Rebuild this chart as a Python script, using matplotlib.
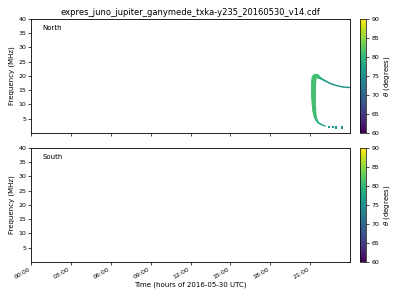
import matplotlib
matplotlib.use("Agg")
import matplotlib.pyplot as plt
import numpy as np
from matplotlib.colors import Normalize
from matplotlib.collections import LineCollection

title = "expres_juno_jupiter_ganymede_txka-y235_20160530_v14.cdf"
hemispheres = ["North", "South"]
xtick_labels = ["00:00", "03:00", "06:00", "09:00", "12:00", "15:00", "18:00", "21:00"]
xtick_hours = [0, 3, 6, 9, 12, 15, 18, 21]
yticks = [5, 10, 15, 20, 25, 30, 35, 40]

# North emission: upper branch (hours, MHz, theta deg)
north_upper_time = [21.3, 21.4, 21.5, 21.6, 21.7, 21.85, 22.0, 22.2, 22.4, 22.6, 22.8,
                    23.0, 23.25, 23.5, 23.75, 24.0]
north_upper_freq = [19.4, 19.9, 19.9, 19.7, 19.4, 19.0, 18.6, 18.1, 17.6, 17.2, 16.9,
                    16.6, 16.3, 16.1, 16.0, 15.9]
north_upper_theta = [81, 81, 81, 80.5, 80, 79, 78, 77, 76.5, 76, 75.5, 75, 75, 75, 75, 75]

# North emission: lower branch
north_lower_time = [21.3, 21.27, 21.25, 21.25, 21.26, 21.28, 21.31, 21.35, 21.41,
                    21.5, 21.62, 21.78, 21.95, 22.15]
north_lower_freq = [19.4, 18.0, 16.0, 14.0, 12.0, 10.0, 8.0, 6.5, 5.3,
                    4.3, 3.6, 3.1, 2.7, 2.4]
north_lower_theta = [81, 81, 81, 81, 81, 81, 81, 81, 80.5, 80, 79, 78, 77, 76.5]

# North emission: isolated low-frequency points
north_dots_time = [22.4, 22.7, 22.95, 23.4]
north_dots_freq = [2.1, 2.0, 1.9, 1.9]
north_dots_theta = [76, 75.5, 75, 75]

theta_min, theta_max = 60, 90
cbar_ticks = [60, 65, 70, 75, 80, 85, 90]

fig = plt.figure(figsize=(4, 3), dpi=100)
ax1 = fig.add_axes([0.0775, 0.557, 0.7975, 0.38])
ax2 = fig.add_axes([0.0775, 0.127, 0.7975, 0.38])
cax1 = fig.add_axes([0.9, 0.557, 0.016, 0.38])
cax2 = fig.add_axes([0.9, 0.127, 0.016, 0.38])

norm = Normalize(theta_min, theta_max)
cmap = plt.get_cmap("viridis")


def branch(ax, t, f, th, widths):
    pts = np.column_stack([t, f])
    segs = np.stack([pts[:-1], pts[1:]], axis=1)
    cvals = 0.5 * (np.asarray(th[:-1], float) + np.asarray(th[1:], float))
    lc = LineCollection(segs, cmap=cmap, norm=norm, linewidths=widths, capstyle="round")
    lc.set_array(cvals)
    ax.add_collection(lc)


upper_widths = [3.2, 3.2, 2.6, 2.0, 1.6, 1.3, 1.2, 1.1, 1.1, 1.0, 1.0, 1.0, 1.0, 1.0, 1.0]
lower_widths = [3.6, 3.6, 3.6, 3.4, 3.2, 3.0, 2.6, 2.2, 1.8, 1.4, 1.1, 1.0, 0.9]
branch(ax1, north_upper_time, north_upper_freq, north_upper_theta, upper_widths)
branch(ax1, north_lower_time, north_lower_freq, north_lower_theta, lower_widths)
ax1.scatter(north_dots_time, north_dots_freq, c=north_dots_theta, cmap=cmap, norm=norm,
            marker="s", s=2.5, linewidths=0)

ax1.set_title(title, fontsize=6, pad=3)
for ax, name in zip([ax1, ax2], hemispheres):
    ax.set_xlim(0, 24)
    ax.set_ylim(0, 40)
    ax.set_yticks(yticks)
    ax.set_xticks(xtick_hours)
    ax.tick_params(labelsize=4.5, length=2, width=0.5, pad=1.5)
    ax.set_ylabel("Frequency (MHz)", fontsize=5, labelpad=2)
    ax.text(0.035, 0.9, name, transform=ax.transAxes, fontsize=5)
    for sp in ax.spines.values():
        sp.set_linewidth(0.6)

ax1.set_xticklabels([])
ax2.set_xticklabels(xtick_labels, rotation=30, ha="right")
ax2.set_xlabel("Time (hours of 2016-05-30 UTC)", fontsize=5, labelpad=1)

sm = plt.cm.ScalarMappable(norm=norm, cmap=cmap)
for cax in [cax1, cax2]:
    cb = fig.colorbar(sm, cax=cax, ticks=cbar_ticks)
    cb.ax.tick_params(labelsize=4.5, length=2, width=0.5, pad=1.5)
    cb.set_label(r"$\theta$ (degrees)", fontsize=5, labelpad=2)
    cb.outline.set_linewidth(0.5)

fig.savefig("out.png", dpi=100)
